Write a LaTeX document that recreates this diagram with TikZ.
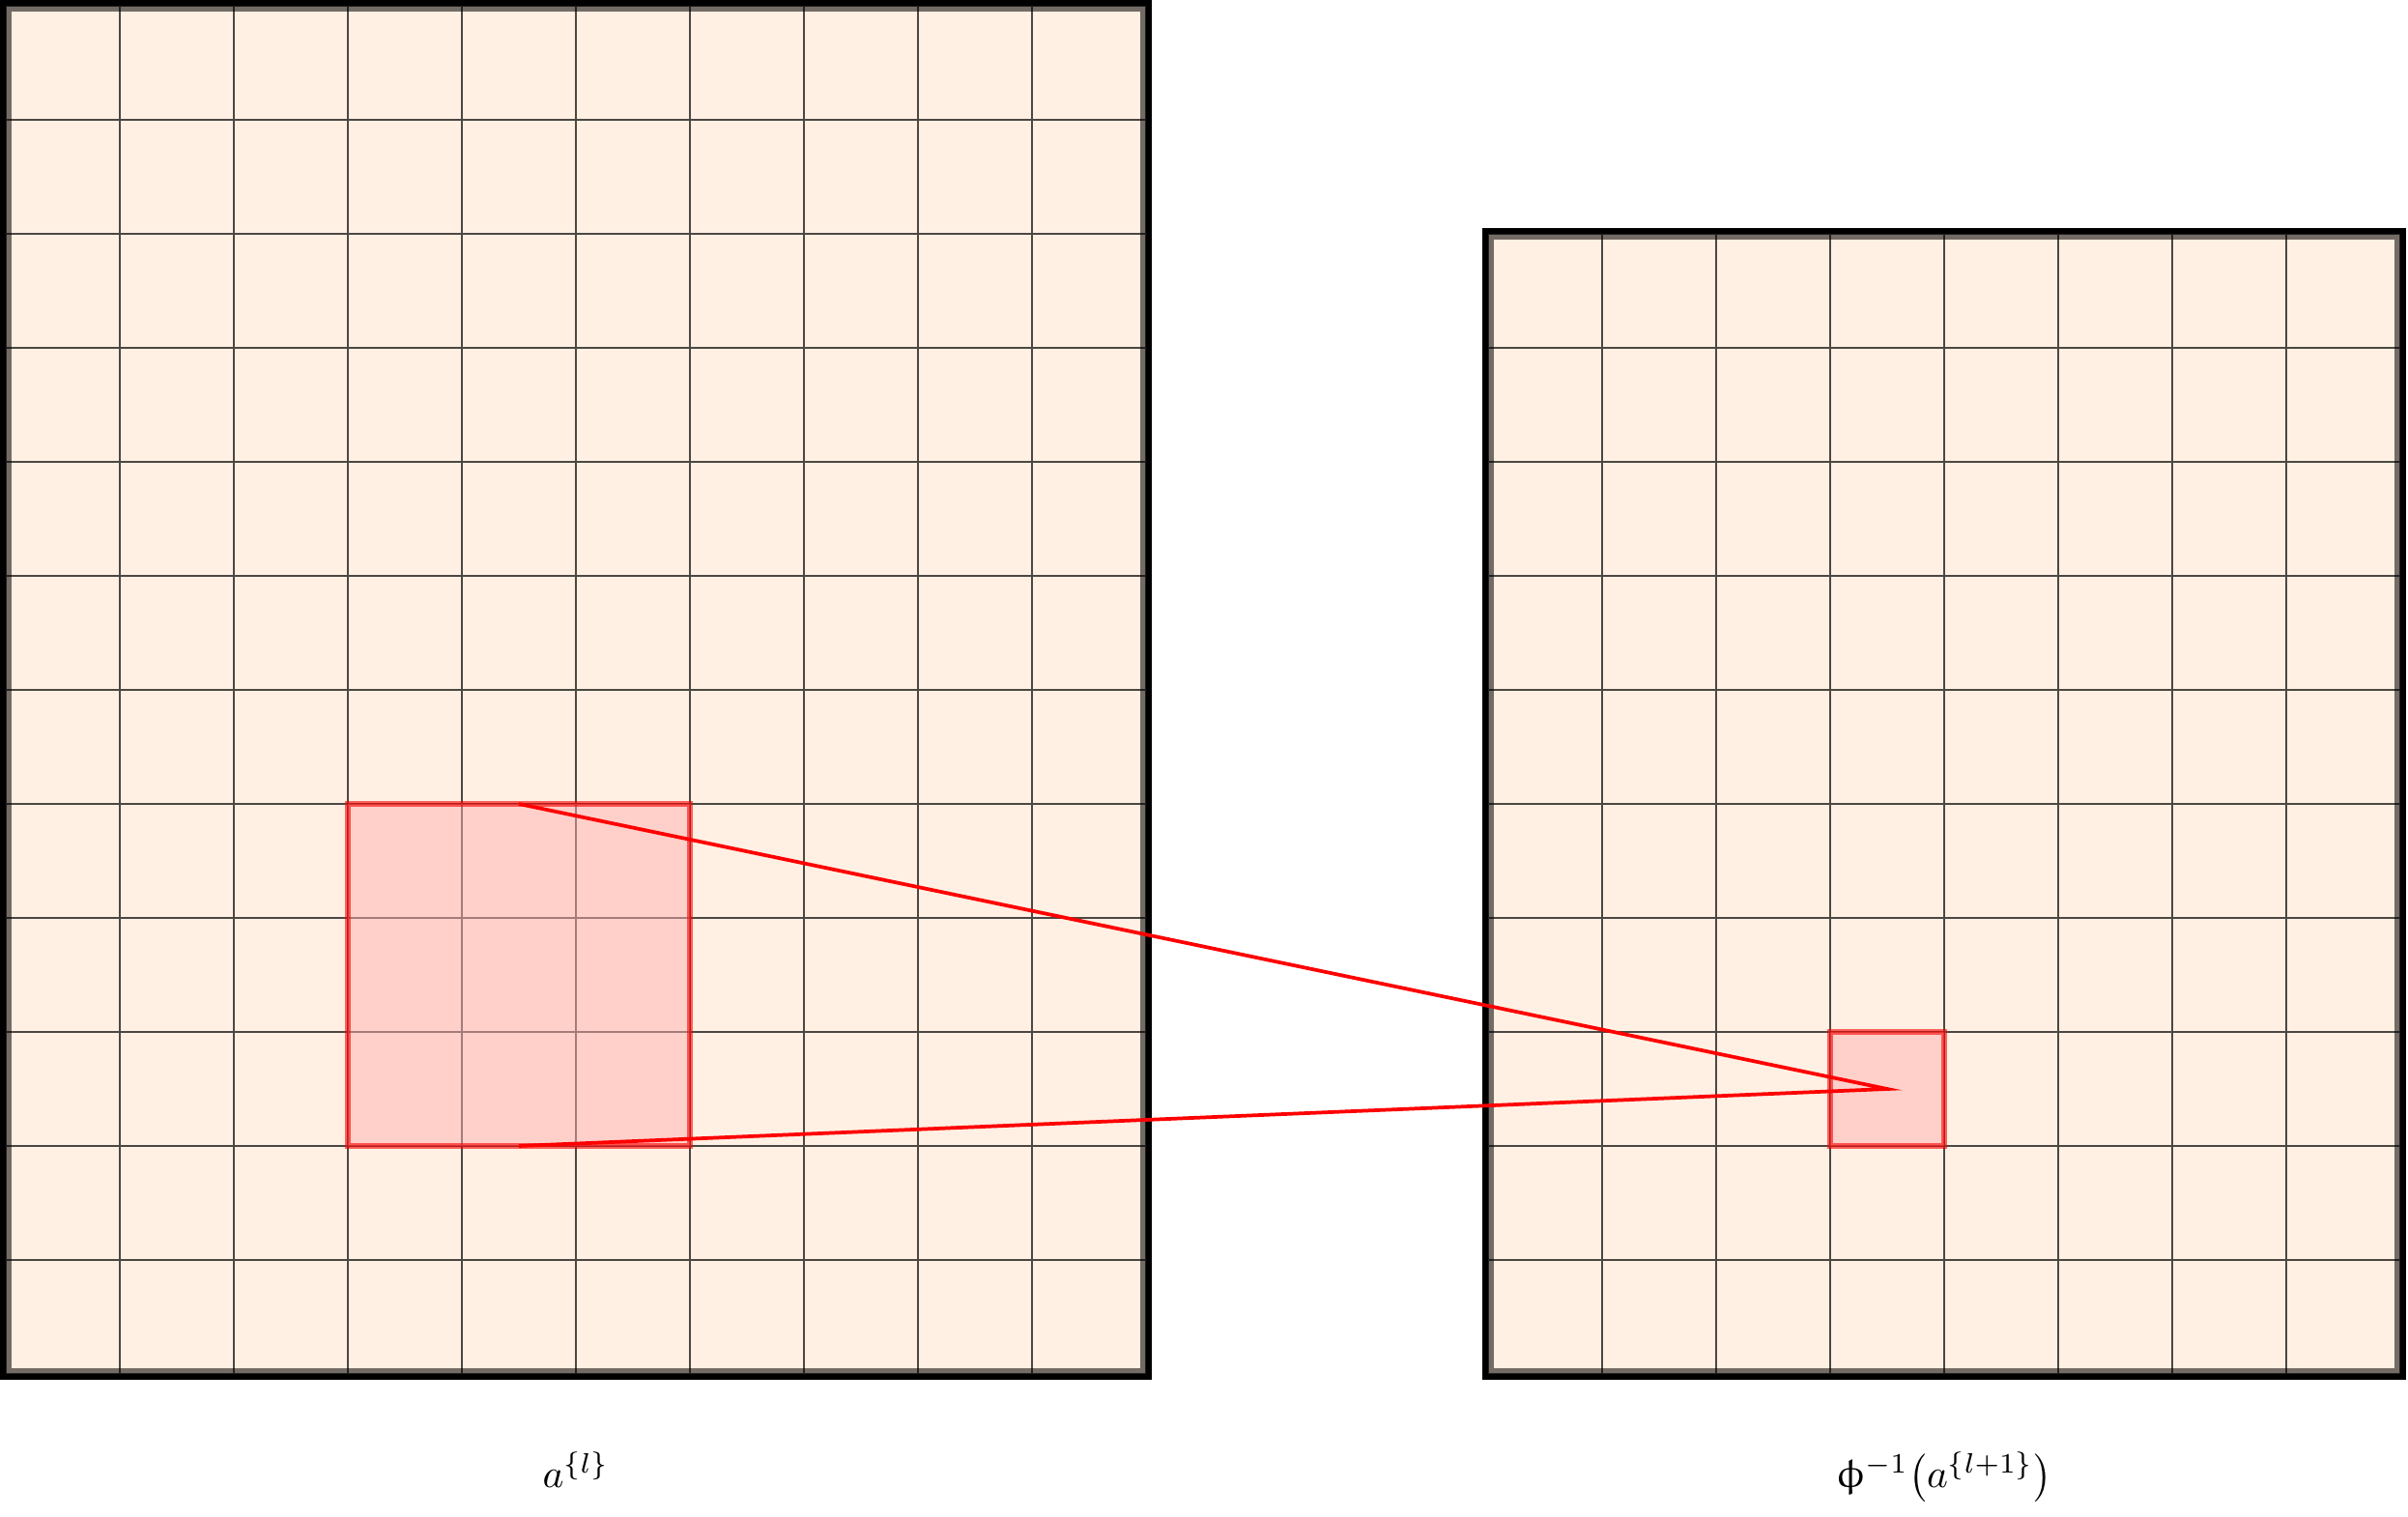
\documentclass[tikz,border=0pt]{standalone}
\usepackage{amsmath}
\usepackage{upgreek}
\usepackage{tikz}
\usetikzlibrary{positioning}
\definecolor{cellfill}{HTML}{FFF0E3}

\begin{document}
\begin{tikzpicture}[
    board/.style={rectangle, fill=cellfill, inner sep=0pt, outer sep=0pt},
    gridline/.style={draw=black, draw opacity=0.7, line width=0.35pt},
    rim/.style={draw=black, draw opacity=0.55, line width=1.45pt},
    frame/.style={draw=black, line width=1.55pt},
    patch/.style={rectangle, draw=red, draw opacity=0.6, line width=1.3pt, fill=red!30, fill opacity=0.5, inner sep=0pt, outer sep=0pt},
    link/.style={draw=red, line width=0.9pt}]
      \useasboundingbox (-0.051,-1.254) rectangle (21.068,12.051);
      % Place feature maps
      \node [board, minimum width=10cm, minimum height=12cm] (inmap) at (5,6) {};
      \node [board, minimum width=8cm, minimum height=10cm] (outmap) at (17,5) {};
      \draw [gridline, step=1] (inmap.south west) grid (inmap.north east);
      \draw [gridline, step=1] (outmap.south west) grid (outmap.north east);
      % Borders
      \draw [rim] ([shift={(0.72pt,0.72pt)}]inmap.south west) rectangle ([shift={(-0.72pt,-0.72pt)}]inmap.north east);
      \draw [rim] ([shift={(0.72pt,0.72pt)}]outmap.south west) rectangle ([shift={(-0.72pt,-0.72pt)}]outmap.north east);
      \draw [frame] ([shift={(-0.78pt,-0.78pt)}]inmap.south west) rectangle ([shift={(0.78pt,0.78pt)}]inmap.north east);
      \draw [frame] ([shift={(-0.78pt,-0.78pt)}]outmap.south west) rectangle ([shift={(0.78pt,0.78pt)}]outmap.north east);
      % Receptive field and unit
      \node [patch, minimum size=3cm] (field) at (4.5,3.5) {};
      \node [patch, minimum size=1cm] (unit) at (16.5,2.5) {};
      \draw [link] (field.north) -- (unit.center) -- (field.south);
      % Labels
      \node [anchor=base] (inlabel) at (5,-1) {$a^{\{l\}}$};
      \node [anchor=base] (outlabel) at (17,-1) {$\upphi^{-1}\bigl(a^{\{l+1\}}\bigr)$};
  \end{tikzpicture}
\end{document}
